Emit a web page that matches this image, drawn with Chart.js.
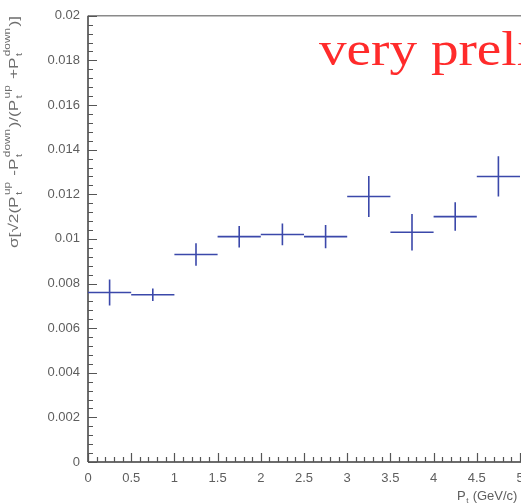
<!DOCTYPE html>
<html>
<head>
<meta charset="utf-8">
<script src="https://cdn.jsdelivr.net/npm/chart.js@4.4.0/dist/chart.umd.min.js"></script>
<style>
  html, body { margin: 0; padding: 0; background: #fff; overflow: hidden; }
  #wrap { position: relative; width: 545px; height: 503px; }
  canvas { display: block; }
</style>
</head>
<body>
<div id="wrap"><canvas id="c" width="545" height="503"></canvas></div>
<script>
// Pt bins (GeV/c): centres and half widths
const binCenters   = [0.25, 0.75, 1.25, 1.75, 2.25, 2.75, 3.25, 3.75, 4.25, 4.75];
const binHalfWidth = [0.25, 0.25, 0.25, 0.25, 0.25, 0.25, 0.25, 0.25, 0.25, 0.25];
// sigma of the normalised up/down asymmetry and its uncertainty
const sigmaValues  = [0.0076, 0.0075, 0.0093, 0.0101, 0.0102, 0.0101, 0.0119, 0.0103, 0.0110, 0.0128];
const sigmaErrors  = [0.00058, 0.00028, 0.00050, 0.00048, 0.00049, 0.00052, 0.00092, 0.00082, 0.00064, 0.00090];
// axis tick labels
const xTickValues  = [0, 0.5, 1, 1.5, 2, 2.5, 3, 3.5, 4, 4.5, 5];
const yTickValues  = [0, 0.002, 0.004, 0.006, 0.008, 0.01, 0.012, 0.014, 0.016, 0.018, 0.02];
const xMinorStep = 0.1;
const yMinorStep = 0.0004;

const AXIS_FONT = '"Liberation Sans", Arial, sans-serif';
const LABEL_COLOR = '#5e5e5e';

// ROOT-style frame, inward ticks, error crosses and titles
const rootStyle = {
  id: 'rootStyle',
  afterDatasetsDraw(chart) {
    const ctx = chart.ctx;
    const xs = chart.scales.x, ys = chart.scales.y;
    const a = chart.chartArea;
    ctx.save();

    // frame lines
    ctx.lineCap = 'butt';
    ctx.strokeStyle = '#8a8a8a';
    ctx.lineWidth = 1.5;
    ctx.beginPath();
    ctx.moveTo(a.left, a.top); ctx.lineTo(chart.width, a.top);
    ctx.stroke();
    ctx.strokeStyle = '#3c3c3c';
    ctx.beginPath();
    ctx.moveTo(a.left, a.top); ctx.lineTo(a.left, a.bottom);
    ctx.moveTo(a.left, a.bottom); ctx.lineTo(chart.width, a.bottom);
    ctx.stroke();

    // y ticks
    ctx.lineWidth = 1.2;
    ctx.strokeStyle = '#555';
    ctx.beginPath();
    const yMin = ys.min, yMax = ys.max;
    for (let k = 0; yMin + k * yMinorStep <= yMax + 1e-9; k++) {
      const v = yMin + k * yMinorStep;
      const py = Math.round(ys.getPixelForValue(v)) + 0.5;
      const major = k % 5 === 0;
      ctx.moveTo(a.left, py); ctx.lineTo(a.left + (major ? 9 : 5), py);
    }
    // x ticks
    const xMin = xs.min, xMax = xs.max;
    for (let k = 0; xMin + k * xMinorStep <= xMax + 1e-9; k++) {
      const v = xMin + k * xMinorStep;
      const px = Math.round(xs.getPixelForValue(v)) + 0.5;
      const major = k % 5 === 0;
      ctx.moveTo(px, a.bottom); ctx.lineTo(px, a.bottom - (major ? 9 : 5));
    }
    ctx.stroke();

    // error crosses
    ctx.strokeStyle = '#3b48aa';
    ctx.lineWidth = 1.6;
    ctx.beginPath();
    for (let i = 0; i < binCenters.length; i++) {
      const x0 = xs.getPixelForValue(binCenters[i] - binHalfWidth[i]);
      const x1 = xs.getPixelForValue(binCenters[i] + binHalfWidth[i]);
      const xc = xs.getPixelForValue(binCenters[i]);
      const yc = ys.getPixelForValue(sigmaValues[i]);
      const y0 = ys.getPixelForValue(sigmaValues[i] - sigmaErrors[i]);
      const y1 = ys.getPixelForValue(sigmaValues[i] + sigmaErrors[i]);
      ctx.moveTo(x0, yc); ctx.lineTo(x1, yc);
      ctx.moveTo(xc, y0); ctx.lineTo(xc, y1);
    }
    ctx.stroke();

    // annotation (slightly widened serif face)
    ctx.save();
    ctx.fillStyle = '#ff2b2b';
    ctx.font = '48px "Liberation Serif", "Times New Roman", serif';
    ctx.textBaseline = 'alphabetic';
    ctx.textAlign = 'left';
    ctx.translate(319, 65);
    ctx.scale(1.15, 1);
    ctx.fillText('very preliminary', 0, 0);
    ctx.restore();

    // x axis title
    ctx.fillStyle = LABEL_COLOR;
    ctx.textAlign = 'left';
    ctx.font = '13px ' + AXIS_FONT;
    let tx = 457;
    ctx.fillText('P', tx, 500);
    tx += ctx.measureText('P').width;
    ctx.font = '8px ' + AXIS_FONT;
    ctx.fillText('t', tx + 0.5, 503);
    tx += 7;
    ctx.font = '13px ' + AXIS_FONT;
    ctx.fillText('(GeV/c)', tx, 500);

    // y axis title (rotated, stretched to run along the axis)
    const parts = [
      { b: 'σ[√2(P', sup: 'up', sub: 't' },
      { b: ' -P', sup: 'down', sub: 't' },
      { b: ')/(P', sup: 'up', sub: 't' },
      { b: ' +P', sup: 'down', sub: 't' },
      { b: ')]' }
    ];
    const layoutParts = (draw) => {
      let cx = 0;
      for (const p of parts) {
        ctx.font = '13px ' + AXIS_FONT;
        if (draw) ctx.fillText(p.b, cx, 0);
        cx += ctx.measureText(p.b).width;
        if (p.sup) {
          ctx.font = '9px ' + AXIS_FONT;
          if (draw) {
            ctx.fillText(p.sup, cx + 1, -8);
            ctx.fillText(p.sub, cx + 1, 4);
          }
          cx += Math.max(ctx.measureText(p.sup).width, ctx.measureText(p.sub).width) + 2;
        }
      }
      return cx;
    };
    const natural = layoutParts(false);
    const span = 232;
    ctx.save();
    ctx.fillStyle = '#6e6e6e';
    ctx.translate(18, 248);
    ctx.rotate(-Math.PI / 2);
    ctx.scale(span / natural, 1);
    layoutParts(true);
    ctx.restore();

    ctx.restore();
  }
};

new Chart(document.getElementById('c'), {
  type: 'scatter',
  data: {
    datasets: [{
      data: binCenters.map((x, i) => ({ x: x, y: sigmaValues[i] })),
      pointRadius: 0,
      showLine: false
    }]
  },
  options: {
    responsive: false,
    devicePixelRatio: 1,
    animation: false,
    layout: { padding: { top: 15, right: 25, left: 0, bottom: 0 } },
    plugins: { legend: { display: false }, tooltip: { enabled: false } },
    scales: {
      x: {
        type: 'linear', min: 0, max: 5,
        grid: { display: false, drawTicks: false, tickLength: 0 },
        border: { display: false },
        afterBuildTicks: s => { s.ticks = xTickValues.map(v => ({ value: v })); },
        afterFit: s => { s.height = 41; },
        ticks: {
          color: LABEL_COLOR, padding: 9, maxRotation: 0, autoSkip: false,
          font: { family: AXIS_FONT, size: 13 },
          callback: v => String(+Number(v).toFixed(1))
        }
      },
      y: {
        type: 'linear', min: 0, max: 0.02,
        grid: { display: false, drawTicks: false, tickLength: 0 },
        border: { display: false },
        afterBuildTicks: s => { s.ticks = yTickValues.map(v => ({ value: v })); },
        afterFit: s => { s.width = 88; },
        ticks: {
          color: LABEL_COLOR, padding: 8, autoSkip: false,
          font: { family: AXIS_FONT, size: 13 },
          callback: v => String(+Number(v).toFixed(3))
        }
      }
    }
  },
  plugins: [rootStyle]
});
</script>
</body>
</html>
